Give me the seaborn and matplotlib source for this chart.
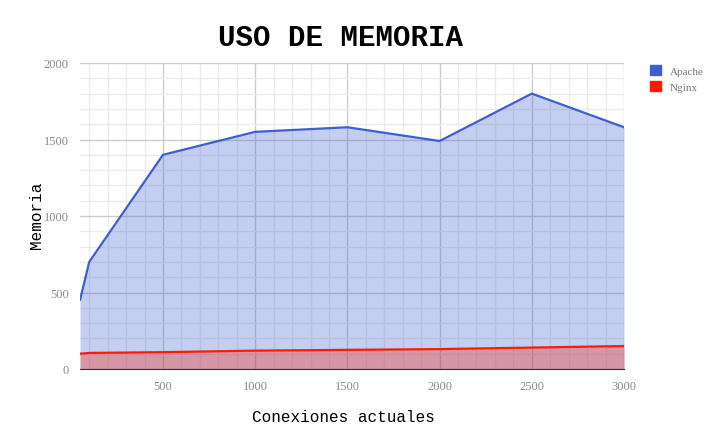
import numpy as np
import pandas as pd
import seaborn as sns
import matplotlib.pyplot as plt
from matplotlib.patches import Patch
from matplotlib.ticker import MultipleLocator

conexiones = [50, 100, 500, 1000, 1500, 2000, 2500, 3000]
apache = [450, 700, 1400, 1550, 1580, 1490, 1800, 1580]
nginx = [100, 105, 110, 120, 125, 130, 140, 150]

df = pd.DataFrame({'conexiones': conexiones, 'Apache': apache, 'Nginx': nginx})
df_long = df.melt(id_vars='conexiones', var_name='servidor', value_name='memoria')

colores = {'Apache': '#3d5fd3', 'Nginx': '#ff1a00'}

sns.set_style('white')
fig = plt.figure(figsize=(7.15, 4.35), dpi=100)
ax = fig.add_axes([80 / 715, 1 - 370 / 435, 544 / 715, 306 / 435])

for serv in ['Apache', 'Nginx']:
    ax.fill_between(df['conexiones'], df[serv], 0, color=colores[serv], alpha=0.3, linewidth=0)
sns.lineplot(data=df_long, x='conexiones', y='memoria', hue='servidor',
             palette=colores, linewidth=1.6, ax=ax, legend=False)

ax.set_xlim(50, 3000)
ax.set_ylim(0, 2000)
ax.xaxis.set_major_locator(MultipleLocator(500))
ax.yaxis.set_major_locator(MultipleLocator(500))
ax.xaxis.set_minor_locator(MultipleLocator(100))
ax.yaxis.set_minor_locator(MultipleLocator(100))
ax.grid(which='major', color='#cccccc', linewidth=1)
ax.grid(which='minor', color='#ebebeb', linewidth=1)
ax.set_axisbelow(True)
for s in ['top', 'right', 'left']:
    ax.spines[s].set_visible(False)
ax.spines['bottom'].set_color('#333333')
ax.tick_params(which='both', length=0, labelsize=9, labelcolor='#8a8a8a', pad=8)
for lab in ax.get_xticklabels() + ax.get_yticklabels():
    lab.set_family('Liberation Serif')

ax.set_xlabel('Conexiones actuales', family='Liberation Mono', fontsize=11.5, color='black')
ax.set_ylabel('Memoria', family='Liberation Mono', fontsize=11.5, color='black')
ax.xaxis.set_label_coords(0.485, -0.13)
ax.yaxis.set_label_coords(-0.066, 0.506)
fig.suptitle('USO DE MEMORIA', family='Liberation Mono', fontweight='bold',
             fontsize=21, color='black', x=341 / 715, y=0.945)

handles = [Patch(color=colores[s], label=s) for s in ['Apache', 'Nginx']]
leg = fig.legend(handles=handles, loc='upper left', bbox_to_anchor=(640 / 715, 1 - 56 / 435),
                 frameon=False, prop={'family': 'Liberation Serif', 'size': 8},
                 handlelength=1, handleheight=1, labelcolor='#777777')

plt.savefig('out.png', dpi=100)
